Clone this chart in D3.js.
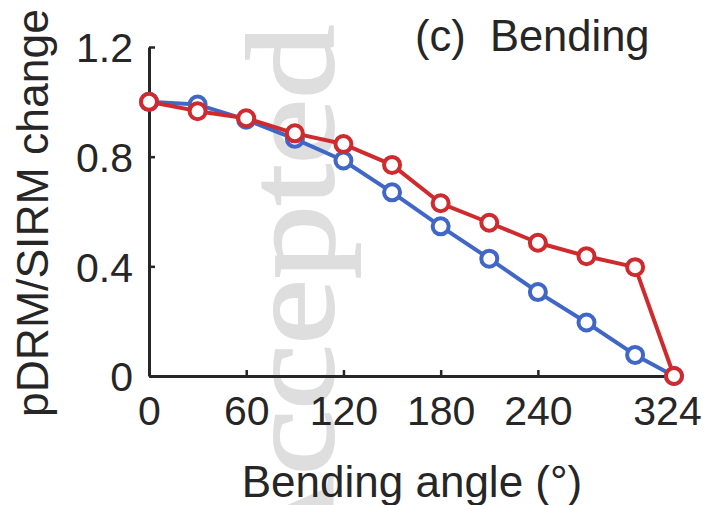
<!DOCTYPE html>
<html><head><meta charset="utf-8">
<script src="https://cdn.jsdelivr.net/npm/d3@7"></script>
<style>body{margin:0;background:#fff}svg{display:block}text{font-family:"Liberation Sans",Arial,sans-serif;fill:#262626}</style>
</head><body>
<svg id="c" width="705" height="505"></svg>
<script>
const angles = [0, 30, 60, 90, 120, 150, 180, 210, 240, 270, 300, 324];
const blueValues = [1.0, 0.99, 0.935, 0.865, 0.786, 0.67, 0.546, 0.428, 0.306, 0.195, 0.077, 0.0];
const redValues = [1.0, 0.966, 0.94, 0.885, 0.846, 0.77, 0.63, 0.559, 0.486, 0.437, 0.397, 0.0];
const xTicks = [0, 60, 120, 180, 240, 324];
const yTicks = [0, 0.4, 0.8, 1.2];
const yTickLabels = ["0", "0.4", "0.8", "1.2"];

const svg = d3.select("#c");
const x = d3.scaleLinear().domain([0, 324]).range([149, 674]);
const y = d3.scaleLinear().domain([0, 1.2]).range([376, 47]);

// watermark
svg.append("text")
  .attr("transform", "translate(333,25) rotate(-90) scale(1.18,1)")
  .attr("text-anchor", "end")
  .style("font-family", "'Liberation Serif','DejaVu Serif',serif")
  .style("font-size", "125px")
  .style("fill", "#dedede")
  .style("stroke", "#dedede").style("stroke-width", 2)
  .text("Accepted");

// axes
const xAxis = svg.append("g").attr("transform", "translate(0,376)")
  .call(d3.axisBottom(x).tickValues(xTicks).tickSizeInner(-6).tickSizeOuter(0).tickPadding(20).tickFormat(d3.format("d")));
const yAxis = svg.append("g").attr("transform", "translate(149,0)")
  .call(d3.axisLeft(y).tickValues(yTicks).tickSizeInner(-6).tickSizeOuter(0).tickPadding(16).tickFormat((d, i) => yTickLabels[i]));
[xAxis, yAxis].forEach(g => {
  g.select(".domain").attr("stroke", "#262626").attr("stroke-width", 3);
  g.selectAll(".tick line").attr("stroke", "#262626").attr("stroke-width", 2.5);
  g.selectAll(".tick text").style("font-size", "41px").attr("fill", "#262626");
});
yAxis.selectAll(".tick text").attr("dy", "0.36em");
xAxis.selectAll(".tick text").filter(d => d === 324).attr("dx", -7);

// series
const line = d3.line().x((d, i) => x(angles[i])).y(d => y(d));
function series(vals, color) {
  svg.append("path").datum(vals).attr("d", line)
    .attr("fill", "none").attr("stroke", color).attr("stroke-width", 4).attr("stroke-linejoin", "round");
  svg.append("g").selectAll("circle").data(vals).join("circle")
    .attr("cx", (d, i) => x(angles[i])).attr("cy", d => y(d)).attr("r", 8)
    .attr("fill", "#fff").attr("stroke", color).attr("stroke-width", 4);
}
series(blueValues, "#4167c6");
series(redValues, "#cf2a2e");

// title
svg.append("text").attr("x", 415).attr("y", 51).attr("xml:space", "preserve")
  .style("white-space", "pre").style("font-size", "43.5px").text("(c)  Bending");

// axis labels
svg.append("text").attr("x", 412).attr("y", 497).attr("text-anchor", "middle")
  .style("font-size", "44px").text("Bending angle (°)");
svg.append("text").attr("transform", "translate(48,213) rotate(-90)").attr("text-anchor", "middle")
  .style("font-size", "44.5px").text("pDRM/SIRM change");
</script>
</body></html>
